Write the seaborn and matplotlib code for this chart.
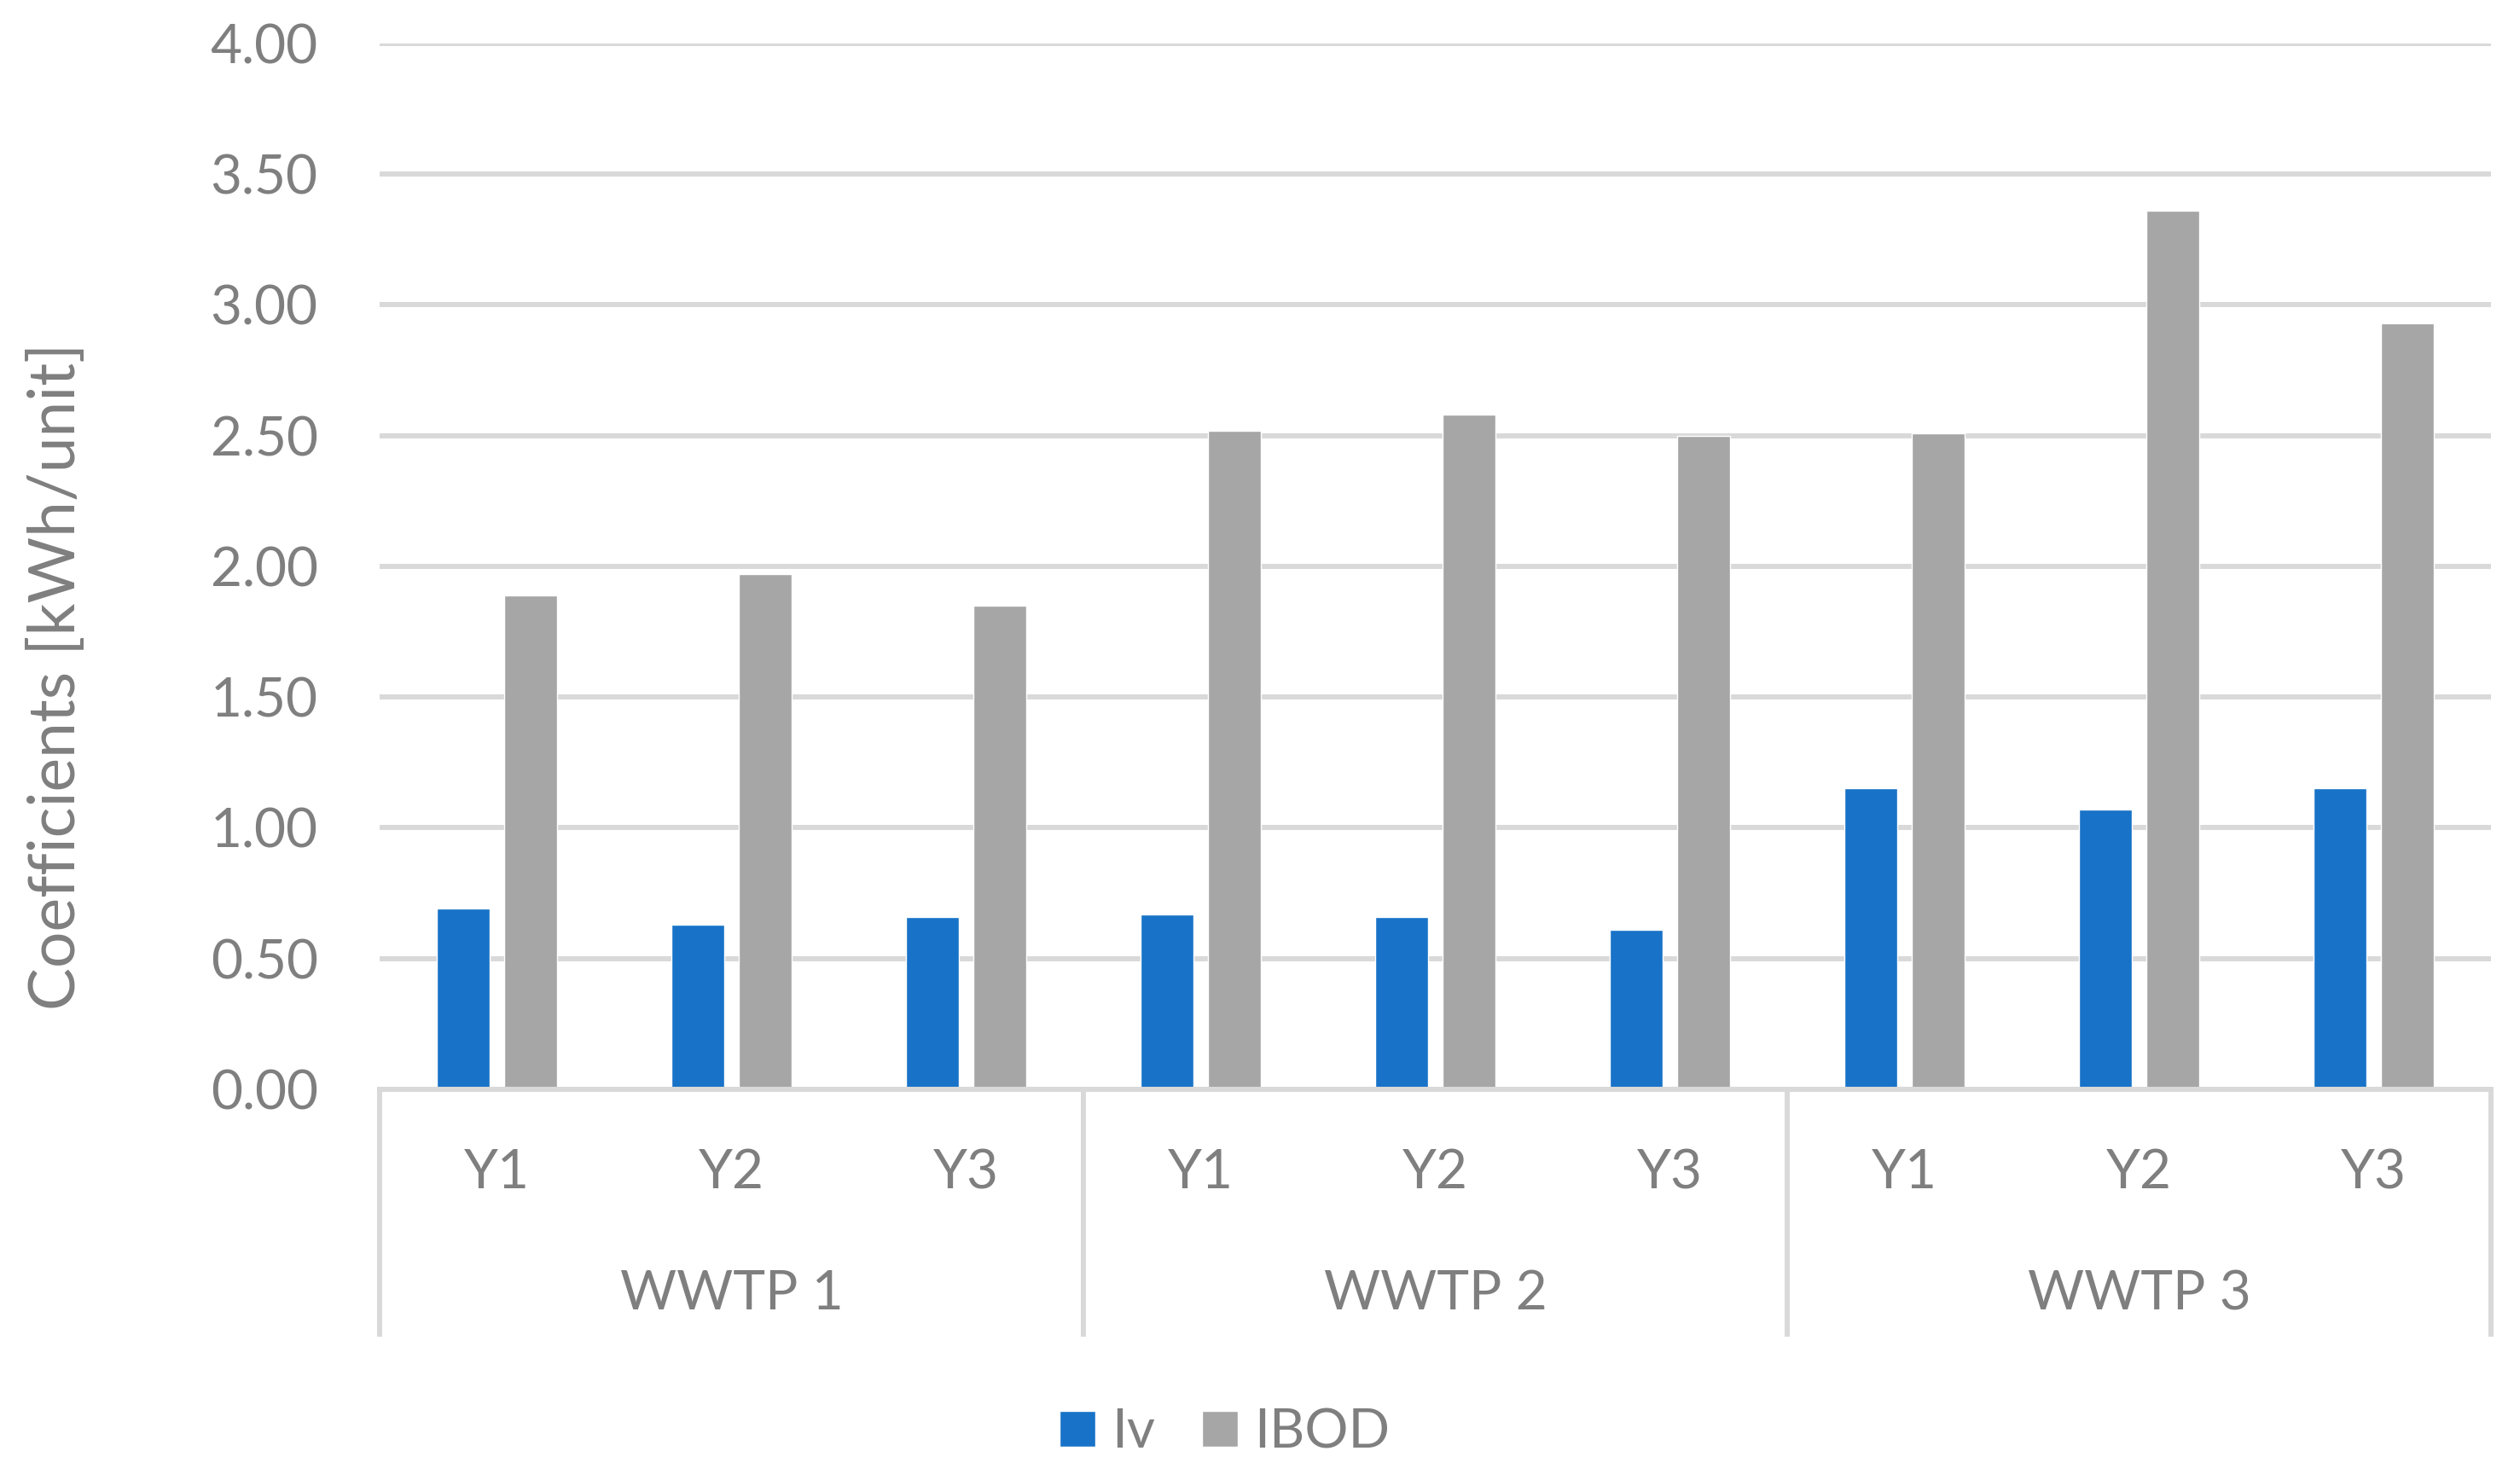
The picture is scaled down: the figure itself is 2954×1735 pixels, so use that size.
import matplotlib
matplotlib.use("Agg")
import numpy as np
import pandas as pd
import seaborn as sns
import matplotlib.pyplot as plt
import matplotlib.transforms as mtransforms
from matplotlib.patches import Patch

plants = ['WWTP 1', 'WWTP 2', 'WWTP 3']
years = ['Y1', 'Y2', 'Y3']
iv = [0.69, 0.63, 0.66, 0.67, 0.66, 0.61, 1.15, 1.07, 1.15]
ibod = [1.89, 1.97, 1.85, 2.52, 2.58, 2.50, 2.51, 3.36, 2.93]
series = ['Iv', 'IBOD']
colors = ['#1873C8', '#A6A6A6']

sns.set_style('white')
plt.rcParams['font.family'] = ['Lato', 'DejaVu Sans']
txt = '#7F7F7F'
line = '#D9D9D9'

# long table for seaborn
rows = []
for i, p in enumerate(plants):
    for j, y in enumerate(years):
        k = i * 3 + j
        rows.append({'cat': p + ' ' + y, 'series': 'Iv', 'value': iv[k]})
        rows.append({'cat': p + ' ' + y, 'series': 'IBOD', 'value': ibod[k]})
df = pd.DataFrame(rows)

fig = plt.figure(figsize=(29.54, 17.35), dpi=100)
ax = fig.add_axes([0.1506, 0.264, 0.838, 0.7066])
ax.set_axisbelow(True)
ax.yaxis.grid(True, color=line, linewidth=4.3)

sns.barplot(data=df, x='cat', y='value', hue='series', palette=colors,
            width=0.575, gap=0.214, ax=ax, legend=False, saturation=1)

ax.set_ylim(0, 4)
ax.set_xlim(-0.5, 8.5)
ax.set_yticks(np.arange(0, 4.01, 0.5))
ax.set_yticklabels(['%.2f' % v for v in np.arange(0, 4.01, 0.5)])
ax.tick_params(axis='y', length=0, pad=52, labelsize=46, labelcolor=txt)
ax.set_xticks([])
ax.set_xlabel('')
ax.set_ylabel('Coefficients [kWh/unit]', fontsize=54, color=txt)
ax.yaxis.set_label_coords(-0.139, 0.395)

for s in ['top', 'right', 'left']:
    ax.spines[s].set_visible(False)
ax.spines['bottom'].set_color(line)
ax.spines['bottom'].set_linewidth(4.3)

# two-level category axis
trans = mtransforms.blended_transform_factory(ax.transData, ax.transAxes)
for b in [-0.5, 2.5, 5.5, 8.5]:
    ax.plot([b, b], [0, -0.2365], transform=trans, color=line,
            linewidth=4.3, clip_on=False, solid_capstyle='butt')
for i, p in enumerate(plants):
    for j, y in enumerate(years):
        ax.text(i * 3 + j, -0.080, y, transform=trans, ha='center',
                va='center', fontsize=46, color=txt)
    ax.text(i * 3 + 1, -0.196, p, transform=trans, ha='center',
            va='center', fontsize=46, color=txt)

handles = [Patch(facecolor=c, label=s) for s, c in zip(series, colors)]
leg = fig.legend(handles=handles, loc='center', bbox_to_anchor=(0.486, 0.032),
                 ncol=2, frameon=False, fontsize=46, handlelength=0.65,
                 handleheight=0.65, handletextpad=0.3, columnspacing=0.87)
for t in leg.get_texts():
    t.set_color(txt)

fig.savefig('out.png', dpi=100)
